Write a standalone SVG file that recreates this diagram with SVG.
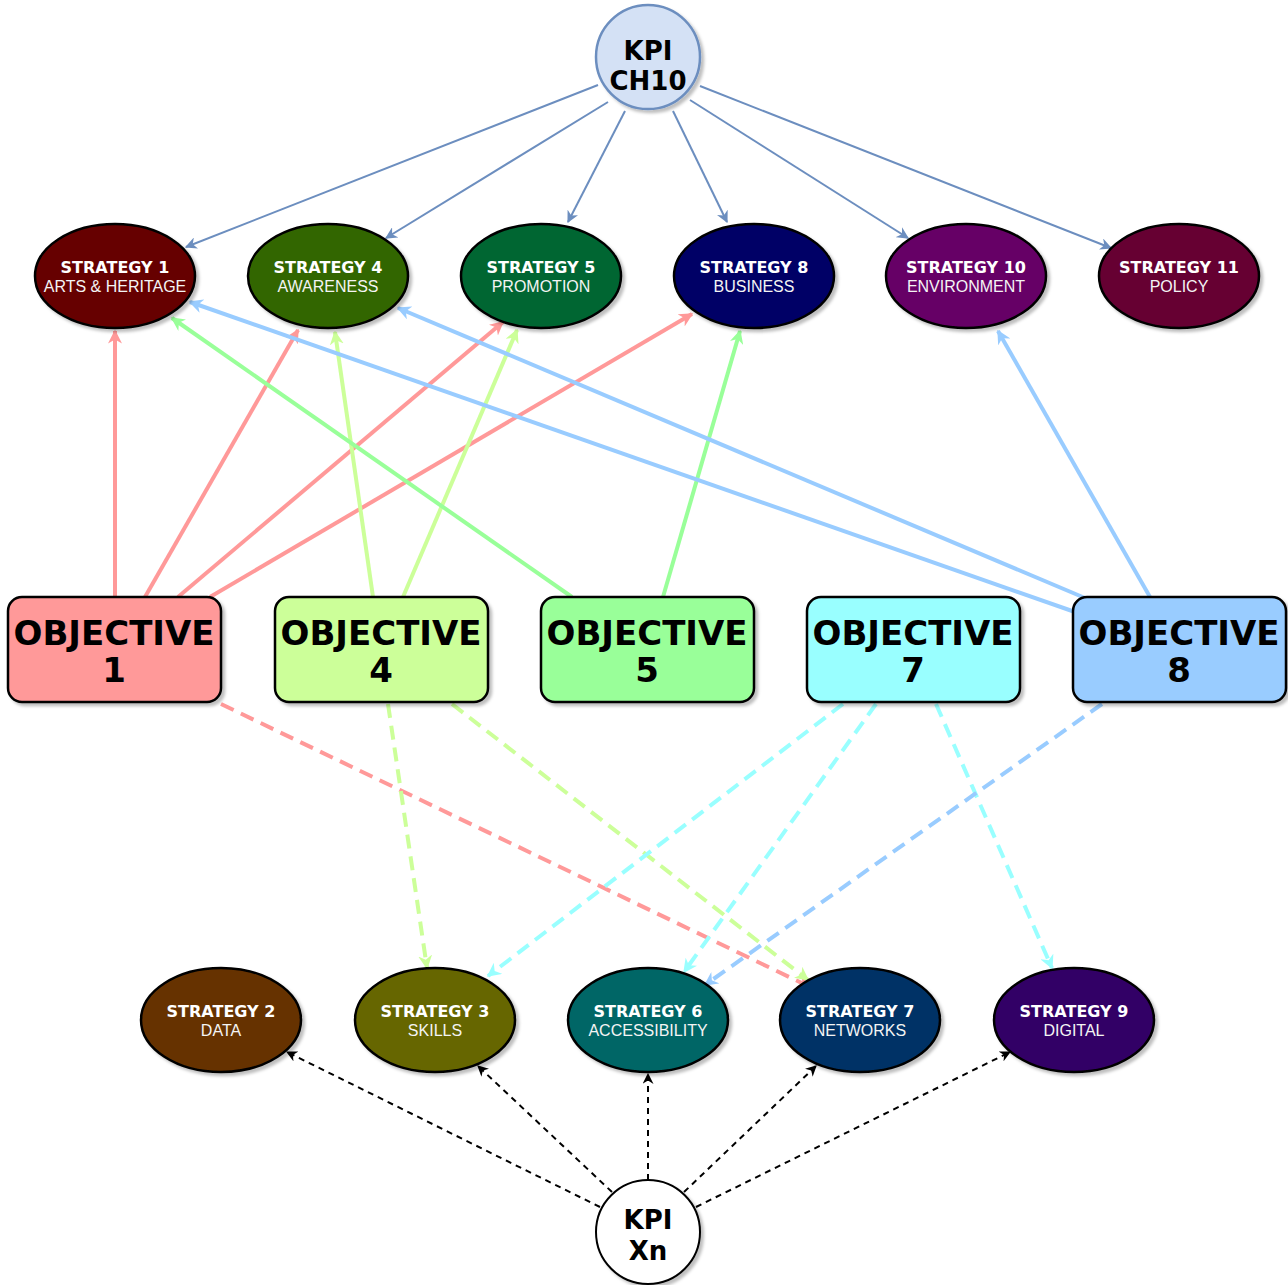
<svg xmlns="http://www.w3.org/2000/svg" width="1288" height="1285" viewBox="0 0 1288 1285">
<style>
.st{stroke:#000;stroke-width:2.5;filter:url(#sh)}
.t1{font-family:"DejaVu Sans",Verdana,sans-serif;font-weight:bold;font-size:16px;fill:#fff;text-anchor:middle}
.t2{font-family:"Liberation Sans",Arial,sans-serif;font-size:16px;fill:#f4f4f4;text-anchor:middle}
.ob{stroke:#000;stroke-width:2.5;filter:url(#sh)}
.to{font-family:"DejaVu Sans",Verdana,sans-serif;font-weight:bold;font-size:34px;fill:#000;text-anchor:middle}
.tk{font-family:"DejaVu Sans",Verdana,sans-serif;font-weight:bold;font-size:26px;fill:#000;text-anchor:middle}
.cb{fill:none;stroke:#6C8EBF;stroke-width:2;marker-end:url(#mb)}
.cr{fill:none;stroke:#FF9999;stroke-width:4;marker-end:url(#mr)}
.cl{fill:none;stroke:#CCFF99;stroke-width:4;marker-end:url(#ml)}
.cg{fill:none;stroke:#99FF99;stroke-width:4;marker-end:url(#mg)}
.cc{fill:none;stroke:#99FFFF;stroke-width:4;marker-end:url(#mc)}
.cu{fill:none;stroke:#99CCFF;stroke-width:4;marker-end:url(#mu)}
.ck{fill:none;stroke:#000;stroke-width:2;stroke-dasharray:6 5;marker-end:url(#mk)}
.d{stroke-dasharray:14 8}
</style>
<defs>
<filter id="sh" x="-20%" y="-20%" width="150%" height="150%">
<feDropShadow dx="3" dy="3" stdDeviation="1.5" flood-color="#000" flood-opacity="0.25"/>
</filter>
<marker id="mb" viewBox="0 0 10 10" refX="9" refY="5" markerWidth="12" markerHeight="12" markerUnits="userSpaceOnUse" orient="auto"><path d="M0,0 L10,5 L0,10 L3,5 Z" fill="#6C8EBF"/></marker>
<marker id="mr" viewBox="0 0 10 10" refX="9" refY="5" markerWidth="14" markerHeight="14" markerUnits="userSpaceOnUse" orient="auto"><path d="M0,0 L10,5 L0,10 L3,5 Z" fill="#FF9999"/></marker>
<marker id="ml" viewBox="0 0 10 10" refX="9" refY="5" markerWidth="14" markerHeight="14" markerUnits="userSpaceOnUse" orient="auto"><path d="M0,0 L10,5 L0,10 L3,5 Z" fill="#CCFF99"/></marker>
<marker id="mg" viewBox="0 0 10 10" refX="9" refY="5" markerWidth="14" markerHeight="14" markerUnits="userSpaceOnUse" orient="auto"><path d="M0,0 L10,5 L0,10 L3,5 Z" fill="#99FF99"/></marker>
<marker id="mc" viewBox="0 0 10 10" refX="9" refY="5" markerWidth="14" markerHeight="14" markerUnits="userSpaceOnUse" orient="auto"><path d="M0,0 L10,5 L0,10 L3,5 Z" fill="#99FFFF"/></marker>
<marker id="mu" viewBox="0 0 10 10" refX="9" refY="5" markerWidth="14" markerHeight="14" markerUnits="userSpaceOnUse" orient="auto"><path d="M0,0 L10,5 L0,10 L3,5 Z" fill="#99CCFF"/></marker>
<marker id="mk" viewBox="0 0 10 10" refX="9" refY="5" markerWidth="11" markerHeight="11" markerUnits="userSpaceOnUse" orient="auto"><path d="M0,0 L10,5 L0,10 L3,5 Z" fill="#000"/></marker>
</defs>
<rect width="1288" height="1285" fill="#fff"/>

<g id="connectors">
<!-- KPI CH10 to top strategies -->
<path class="cb" d="M598,85 L186,247"/>
<path class="cb" d="M608,102 L386,238"/>
<path class="cb" d="M625,111 L568,222"/>
<path class="cb" d="M673,111 L727,222"/>
<path class="cb" d="M690,100 L908,238"/>
<path class="cb" d="M700,86 L1111,248"/>
<!-- Objective 1 -->
<path class="cr" d="M115,597 L115,331"/>
<path class="cr" d="M145,597 L298,330"/>
<path class="cr" d="M178,597 L503,322"/>
<path class="cr" d="M210,597 L692,314"/>
<!-- Objective 4 -->
<path class="cl" d="M373,597 L335,332"/>
<path class="cl" d="M403,597 L517,330"/>
<!-- Objective 5 -->
<path class="cg" d="M572,597 L172,318"/>
<path class="cg" d="M663,597 L740,331"/>
<!-- Objective 8 -->
<path class="cu" d="M1075,612 L190,302"/>
<path class="cu" d="M1085,598 L398,308"/>
<path class="cu" d="M1150,597 L998,331"/>
<!-- dashed to bottom strategies -->
<path class="cr d" d="M221,704 L810,987"/>
<path class="cl d" d="M388,704 L427,968"/>
<path class="cl d" d="M452,704 L808,980"/>
<path class="cc d" d="M843,704 L488,976"/>
<path class="cc d" d="M876,704 L684,972"/>
<path class="cc d" d="M936,704 L1052,968"/>
<path class="cu d" d="M1102,704 L705,985"/>
<!-- KPI Xn -->
<path class="ck" d="M600,1207 L287,1052"/>
<path class="ck" d="M612,1192 L478,1066"/>
<path class="ck" d="M648,1180 L648,1074"/>
<path class="ck" d="M684,1192 L816,1066"/>
<path class="ck" d="M696,1207 L1010,1052"/>
</g>

<g id="kpi-ch10">
<circle cx="648" cy="57" r="52" fill="#D4E1F5" stroke="#6C8EBF" stroke-width="2.5" filter="url(#sh)"/>
<text class="tk" x="648" y="60">KPI</text>
<text class="tk" x="648" y="90">CH10</text>
</g>

<g id="strategy-1"><ellipse class="st" cx="115" cy="276" rx="80" ry="52" fill="#660000"/><text class="t1" x="115" y="273">STRATEGY 1</text><text class="t2" x="115" y="292">ARTS &amp; HERITAGE</text></g>
<g id="strategy-4"><ellipse class="st" cx="328" cy="276" rx="80" ry="52" fill="#336600"/><text class="t1" x="328" y="273">STRATEGY 4</text><text class="t2" x="328" y="292">AWARENESS</text></g>
<g id="strategy-5"><ellipse class="st" cx="541" cy="276" rx="80" ry="52" fill="#006633"/><text class="t1" x="541" y="273">STRATEGY 5</text><text class="t2" x="541" y="292">PROMOTION</text></g>
<g id="strategy-8"><ellipse class="st" cx="754" cy="276" rx="80" ry="52" fill="#000066"/><text class="t1" x="754" y="273">STRATEGY 8</text><text class="t2" x="754" y="292">BUSINESS</text></g>
<g id="strategy-10"><ellipse class="st" cx="966" cy="276" rx="80" ry="52" fill="#660066"/><text class="t1" x="966" y="273">STRATEGY 10</text><text class="t2" x="966" y="292">ENVIRONMENT</text></g>
<g id="strategy-11"><ellipse class="st" cx="1179" cy="276" rx="80" ry="52" fill="#660033"/><text class="t1" x="1179" y="273">STRATEGY 11</text><text class="t2" x="1179" y="292">POLICY</text></g>

<g id="objective-1"><rect class="ob" x="8" y="597" width="213" height="105" rx="14" fill="#FF9999"/><text class="to" x="114" y="645">OBJECTIVE</text><text class="to" x="114" y="682">1</text></g>
<g id="objective-4"><rect class="ob" x="275" y="597" width="213" height="105" rx="14" fill="#CCFF99"/><text class="to" x="381" y="645">OBJECTIVE</text><text class="to" x="381" y="682">4</text></g>
<g id="objective-5"><rect class="ob" x="541" y="597" width="213" height="105" rx="14" fill="#99FF99"/><text class="to" x="647" y="645">OBJECTIVE</text><text class="to" x="647" y="682">5</text></g>
<g id="objective-7"><rect class="ob" x="807" y="597" width="213" height="105" rx="14" fill="#99FFFF"/><text class="to" x="913" y="645">OBJECTIVE</text><text class="to" x="913" y="682">7</text></g>
<g id="objective-8"><rect class="ob" x="1073" y="597" width="213" height="105" rx="14" fill="#99CCFF"/><text class="to" x="1179" y="645">OBJECTIVE</text><text class="to" x="1179" y="682">8</text></g>

<g id="strategy-2"><ellipse class="st" cx="221" cy="1020" rx="80" ry="52" fill="#663300"/><text class="t1" x="221" y="1017">STRATEGY 2</text><text class="t2" x="221" y="1036">DATA</text></g>
<g id="strategy-3"><ellipse class="st" cx="435" cy="1020" rx="80" ry="52" fill="#666600"/><text class="t1" x="435" y="1017">STRATEGY 3</text><text class="t2" x="435" y="1036">SKILLS</text></g>
<g id="strategy-6"><ellipse class="st" cx="648" cy="1020" rx="80" ry="52" fill="#006666"/><text class="t1" x="648" y="1017">STRATEGY 6</text><text class="t2" x="648" y="1036">ACCESSIBILITY</text></g>
<g id="strategy-7"><ellipse class="st" cx="860" cy="1020" rx="80" ry="52" fill="#003366"/><text class="t1" x="860" y="1017">STRATEGY 7</text><text class="t2" x="860" y="1036">NETWORKS</text></g>
<g id="strategy-9"><ellipse class="st" cx="1074" cy="1020" rx="80" ry="52" fill="#330066"/><text class="t1" x="1074" y="1017">STRATEGY 9</text><text class="t2" x="1074" y="1036">DIGITAL</text></g>

<g id="kpi-xn">
<circle cx="648" cy="1232" r="52" fill="#fff" stroke="#000" stroke-width="2" filter="url(#sh)"/>
<text class="tk" x="648" y="1229">KPI</text>
<text class="tk" x="648" y="1260">Xn</text>
</g>
</svg>
